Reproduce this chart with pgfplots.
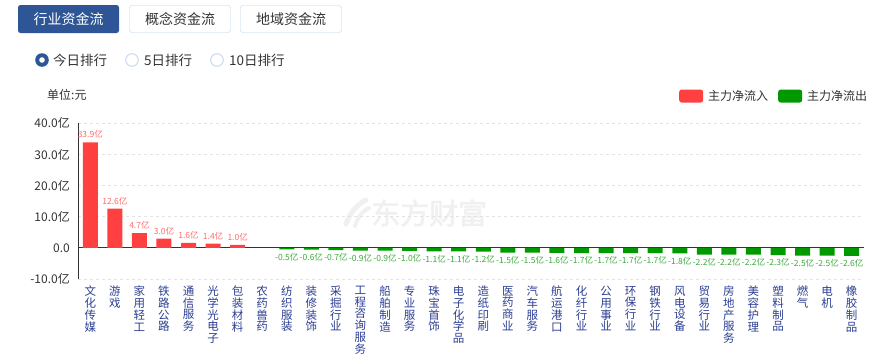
\documentclass[border=0pt]{standalone}
\usepackage{pgfplots}
\pgfplotsset{compat=1.18}
\usepackage{fontspec}
\setmainfont{Noto Sans CJK SC}
\newfontfamily\wmfont[FakeBold=2]{Noto Sans CJK SC}
\definecolor{btnblue}{HTML}{2E5596}
\definecolor{btnborder}{HTML}{B8D1EC}
\definecolor{txt}{HTML}{333333}
\definecolor{barred}{HTML}{FF4040}
\definecolor{bargreen}{HTML}{009A00}
\definecolor{lblred}{HTML}{FF6B6B}
\definecolor{lblgreen}{HTML}{3DAA3D}
\definecolor{ticklab}{HTML}{2B3E93}
\definecolor{gridc}{HTML}{E3E3E3}
\definecolor{radioe}{HTML}{C8DAEE}
\definecolor{wm}{HTML}{F0F0F0}
\begin{document}
\begin{tikzpicture}
\useasboundingbox (0pt,0pt) rectangle (882pt,-360pt);
% buttons
\fill[btnblue, rounded corners=2.5pt] (18pt,-5pt) rectangle (119pt,-33pt);
\node[text=white, font=\fontsize{14}{14}\selectfont] at (68.5pt,-19pt) {行业资金流};
\draw[btnborder, rounded corners=2.5pt] (129.5pt,-5.5pt) rectangle (230.5pt,-32.5pt);
\node[text=txt, font=\fontsize{14}{14}\selectfont] at (180pt,-19pt) {概念资金流};
\draw[btnborder, rounded corners=2.5pt] (240.5pt,-5.5pt) rectangle (341.5pt,-32.5pt);
\node[text=txt, font=\fontsize{14}{14}\selectfont] at (291pt,-19pt) {地域资金流};
% radios
\fill[btnblue] (42pt,-60pt) circle (6.8pt);
\fill[white] (42pt,-60pt) circle (2.8pt);
\node[anchor=west, inner sep=0pt, text=txt, font=\fontsize{13.5}{13.5}\selectfont] at (53pt,-60pt) {今日排行};
\draw[radioe, line width=1pt] (132pt,-60pt) circle (6.3pt);
\node[anchor=west, inner sep=0pt, text=txt, font=\fontsize{13.5}{13.5}\selectfont] at (144pt,-60pt) {5日排行};
\draw[radioe, line width=1pt] (217pt,-60pt) circle (6.3pt);
\node[anchor=west, inner sep=0pt, text=txt, font=\fontsize{13.5}{13.5}\selectfont] at (229pt,-60pt) {10日排行};
% unit
\node[anchor=west, inner sep=0pt, text=txt, font=\fontsize{12}{12}\selectfont] at (47pt,-95pt) {单位:元};
% watermark
\draw[wm, line width=5pt, line cap=round] (346pt,-224pt) .. controls (350pt,-212pt) and (358pt,-204pt) .. (366pt,-200pt);
\draw[wm, line width=4pt, line cap=round] (355pt,-226pt) .. controls (358pt,-216pt) and (364pt,-210pt) .. (369pt,-208pt);
\node[text=wm, font=\wmfont\fontsize{29}{29}\selectfont, anchor=west, inner sep=0pt] at (371pt,-213pt) {东方财富};
\begin{axis}[
  at={(78pt,-279pt)}, anchor=south west,
  scale only axis, width=786pt, height=155.7pt,
  xmin=-0.5, xmax=31.5, ymin=-10, ymax=40,
  axis x line=bottom, axis y line=left,
  x axis line style={draw=none},
  y axis line style={draw=txt, line width=0.9pt, -},
  major tick length=0pt,
  ytick={-10,10,20,30,40},
  yticklabels={-10.0亿,10.0亿,20.0亿,30.0亿,40.0亿},
  extra y ticks={0},
  extra y tick labels={0.0},
  extra y tick style={ymajorgrids=true, major grid style={draw=txt, solid, line width=0.9pt}},
  ymajorgrids,
  major grid style={draw=gridc, dash pattern=on 3pt off 3pt, line width=0.6pt},
  yticklabel style={font=\fontsize{12}{12}\selectfont, text=txt, inner sep=0pt, xshift=-8pt},
  xtick={0,...,31},
  xticklabels={{文\\化\\传\\媒},{游\\戏},{家\\用\\轻\\工},{铁\\路\\公\\路},{通\\信\\服\\务},{光\\学\\光\\电\\子},{包\\装\\材\\料},{农\\药\\兽\\药},{纺\\织\\服\\装},{装\\修\\装\\饰},{采\\掘\\行\\业},{工\\程\\咨\\询\\服\\务},{船\\舶\\制\\造},{专\\业\\服\\务},{珠\\宝\\首\\饰},{电\\子\\化\\学\\品},{造\\纸\\印\\刷},{医\\药\\商\\业},{汽\\车\\服\\务},{航\\运\\港\\口},{化\\纤\\行\\业},{公\\用\\事\\业},{环\\保\\行\\业},{钢\\铁\\行\\业},{风\\电\\设\\备},{贸\\易\\行\\业},{房\\地\\产\\服\\务},{美\\容\\护\\理},{塑\\料\\制\\品},{燃\\气},{电\\机},{橡\\胶\\制\\品}},
  xticklabel style={font=\fontsize{11.5}{11.7}\selectfont, text=ticklab, align=center, anchor=north, inner sep=0pt, yshift=-7pt},
  /pgf/number format/assume math mode=true,
  ybar, bar width=15pt, bar shift=0pt,
  nodes near coords={\pgfmathprintnumber[fixed,fixed zerofill,precision=1]{\pgfplotspointmeta}亿},
  nodes near coords align=vertical,
  every node near coord/.append style={font=\fontsize{8.5}{8.5}\selectfont, inner sep=3.5pt},
  legend style={at={(0.7646,1.175)}, anchor=west, draw=none, fill=none, inner sep=0pt,
    font=\fontsize{12}{12}\selectfont, text=txt,
    /tikz/every odd column/.append style={column sep=3pt},
    /tikz/every even column/.append style={column sep=8pt}},
  legend columns=2,
  clip=false,
]
\addplot[fill=barred, draw=none,
  every node near coord/.append style={text=lblred},
  legend image code/.code={\fill[barred, rounded corners=2.5pt] (0pt,-6.5pt) rectangle (24pt,6.5pt);}]
  coordinates {(0,33.9)(1,12.6)(2,4.7)(3,3.0)(4,1.6)(5,1.4)(6,1.0)};
\addlegendentry{主力净流入}
\addplot[fill=bargreen, draw=none,
  every node near coord/.append style={text=lblgreen},
  legend image code/.code={\fill[bargreen, rounded corners=2.5pt] (0pt,-6.5pt) rectangle (24pt,6.5pt);}]
  coordinates {(8,-0.5)(9,-0.6)(10,-0.7)(11,-0.9)(12,-0.9)(13,-1.0)(14,-1.1)(15,-1.1)(16,-1.2)(17,-1.5)(18,-1.5)(19,-1.6)(20,-1.7)(21,-1.7)(22,-1.7)(23,-1.7)(24,-1.8)(25,-2.2)(26,-2.2)(27,-2.2)(28,-2.3)(29,-2.5)(30,-2.5)(31,-2.6)};
\addlegendentry{主力净流出}
\end{axis}
\end{tikzpicture}
\end{document}
